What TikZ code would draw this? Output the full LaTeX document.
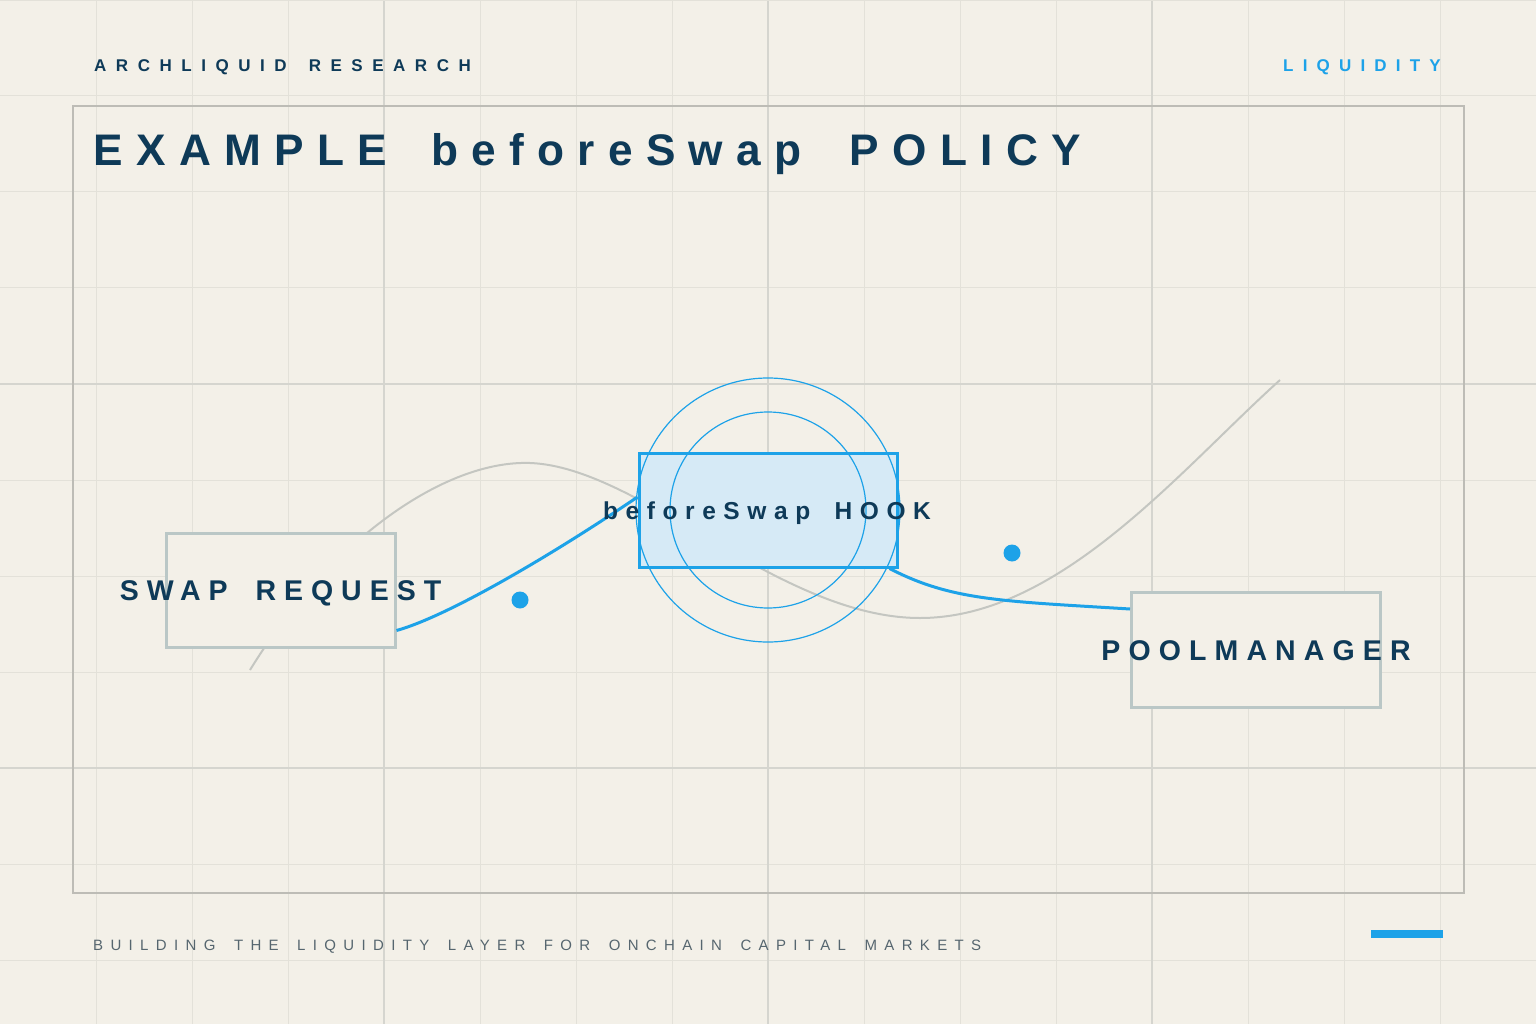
\documentclass[tikz,border=0pt]{standalone}
\usepackage{fontspec}
\setmainfont{Liberation Sans}
\usetikzlibrary{calc}
\definecolor{bgc}{HTML}{F3F0E8}
\definecolor{gridminor}{HTML}{E3E1D9}
\definecolor{gridmajor}{HTML}{D5D5CF}
\definecolor{framec}{HTML}{BDBCB6}
\definecolor{navy}{HTML}{0E3A58}
\definecolor{accent}{HTML}{1DA2E8}
\definecolor{boxgray}{HTML}{BAC7C6}
\definecolor{hookfill}{HTML}{D6EAF6}
\definecolor{curvegray}{HTML}{C4C6C1}
\definecolor{footc}{HTML}{56666F}
\newfontfamily\titlefont[LetterSpace=30]{Liberation Sans}
\newfontfamily\headfont[LetterSpace=56]{Liberation Sans}
\newfontfamily\tagfont[LetterSpace=54]{Liberation Sans}
\newfontfamily\footfont[LetterSpace=49]{Liberation Sans}
\newfontfamily\lblfont[LetterSpace=28]{Liberation Sans}
\newfontfamily\pmfont[LetterSpace=28.5]{Liberation Sans}
\newfontfamily\hookfont[LetterSpace=31]{Liberation Sans}
\tikzset{
  minorgrid/.style={draw=gridminor, line width=1pt},
  majorgrid/.style={draw=gridmajor, line width=1.5pt},
  sbox/.style={rectangle, draw=boxgray, line width=3pt, fill=bgc, inner sep=0pt},
  hbox/.style={rectangle, draw=accent, line width=3pt, fill=hookfill, inner sep=0pt},
  flow/.style={draw=accent, line width=3pt},
  ring/.style={draw=accent, line width=1.2pt},
  dotc/.style={circle, fill=accent, inner sep=0pt, minimum size=17pt},
  lbl/.style={inner sep=0pt, anchor=base, text=navy},
  ghost/.style={draw=curvegray, line width=2pt}
}
\begin{document}
\begin{tikzpicture}[x=1pt,y=-1pt]
\useasboundingbox (0,0) rectangle (1536,1024);
\fill[bgc] (0,0) rectangle (1536,1024);
% grid
\foreach \i in {1,...,15} \draw[minorgrid] (96*\i,0) -- (96*\i,1024);
\foreach \j in {1,...,10} \draw[minorgrid] (0,96*\j) -- (1536,96*\j);
\foreach \i in {384,768,1152} \draw[majorgrid] (\i,0) -- (\i,1024);
\foreach \j in {384,768} \draw[majorgrid] (0,\j) -- (1536,\j);
\draw[minorgrid] (0,1) -- (1536,1);
% frame
\draw[framec, line width=1.3pt] (73,106) rectangle (1464,893);
% header
\node[inner sep=0pt, anchor=base west, text=navy] (hdr) at (94,72)
  {\headfont\bfseries\fontsize{17}{20}\selectfont ARCHLIQUID\hspace{8pt} RESEARCH};
\node[inner sep=0pt, anchor=base west, text=accent] (tag) at (1283,72)
  {\tagfont\bfseries\fontsize{17}{20}\selectfont LIQUIDITY};
% title
\node[inner sep=0pt, anchor=base west, text=navy] (title) at (93.5,166)
  {\titlefont\bfseries\fontsize{44.2}{50}\selectfont EXAMPLE\hspace{19pt} beforeSwap\hspace{23pt} POLICY};
% background curve
\draw[ghost] (250,670) .. controls (330,540) and (445,460) .. (530,463)
  .. controls (640,467) and (780,618) .. (920,618)
  .. controls (1060,618) and (1180,470) .. (1280,380);
% boxes
\node[sbox, minimum width=229pt, minimum height=114pt] (sr) at (280.5,590) {};
\node[sbox, minimum width=249pt, minimum height=115pt] (pm) at (1256,650) {};
\node[hbox, minimum width=258pt, minimum height=114pt] (hk) at (768,510) {};
% connectors
\draw[flow] ([yshift=18pt]sr.south east) .. controls +(54,-15) and +(-78,53) .. ([yshift=13pt]hk.west);
\draw[flow] ([xshift=-9pt]hk.south east) .. controls +(62,32) and +(-130,-8) .. ([yshift=-18pt]pm.north west);
% rings
\draw[ring] (hk.center) circle[radius=132pt];
\draw[ring] (hk.center) circle[radius=98pt];
% dots
\node[dotc] (d1) at (520,600) {};
\node[dotc] (d2) at (1012,553) {};
% labels
\node[lbl] (srl) at ([xshift=0pt, yshift=-10.5pt]sr.center)
  {\lblfont\bfseries\fontsize{28.5}{30}\selectfont SWAP\hspace{12pt} REQUEST};
\node[lbl] (hkl) at ([xshift=-1pt, yshift=-9pt]hk.center)
  {\hookfont\bfseries\fontsize{24.5}{28}\selectfont beforeSwap\hspace{10pt} HOOK};
\node[lbl] (pml) at ([xshift=0pt, yshift=-10pt]pm.center)
  {\pmfont\bfseries\fontsize{28.5}{30}\selectfont POOLMANAGER};
% footer
\node[inner sep=0pt, anchor=base west, text=footc] (foot) at (93,950)
  {\footfont\fontsize{15}{18}\selectfont BUILDING\hspace{7pt} THE\hspace{7pt} LIQUIDITY\hspace{7pt} LAYER\hspace{7pt} FOR\hspace{7pt} ONCHAIN\hspace{7pt} CAPITAL\hspace{7pt} MARKETS};
\fill[accent] (1371,930) rectangle (1443,938);
\end{tikzpicture}
\end{document}
